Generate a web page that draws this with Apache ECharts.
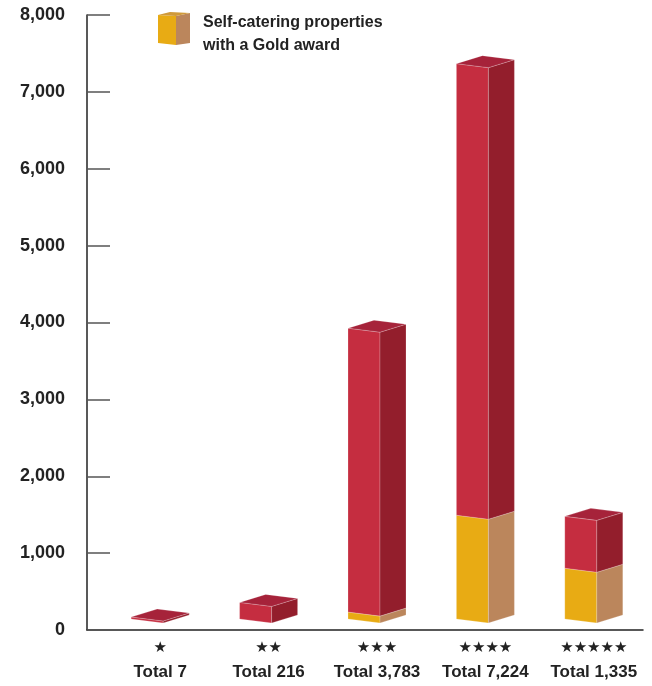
<!DOCTYPE html>
<html><head><meta charset="utf-8">
<script src="https://cdn.jsdelivr.net/npm/echarts@6/dist/echarts.min.js"></script>
<style>html,body{margin:0;padding:0;background:#fff}#c{width:652px;height:686px}</style>
</head><body><div id="c"></div>
<script>
const stars = ['★','★★','★★★','★★★★','★★★★★'];
const totalLabels = ['Total 7','Total 216','Total 3,783','Total 7,224','Total 1,335'];
const totals = [7, 216, 3783, 7224, 1335];
const goldAward = [0, 0, 90, 1350, 660];
const yMin = 0, yMax = 8000, yStep = 1000;

const C = {
  redFront: '#c52d40', redSide: '#931e2c', redTop: '#a6233a',
  goldFront: '#e8ab14', goldSide: '#bb865c', goldTop: '#d09a3a',
  edge: 'rgba(255,255,255,0.35)'
};
const FONT = '"Liberation Sans", Arial, sans-serif';

function poly(pts, fill) {
  return { type: 'polygon', shape: { points: pts }, style: { fill: fill, stroke: C.edge, lineWidth: 0.6 } };
}
function add(p, v) { return [p[0] + v[0], p[1] + v[1]]; }

function renderItem(params, api) {
  const idx = api.value(0), g = api.value(1), t = api.value(2);
  const c0 = api.coord([idx, 0]);
  const cx = c0[0];
  const y0 = c0[1] - 11;
  const hT = Math.max(2, c0[1] - api.coord([idx, t])[1]);
  const hG = g > 0 ? c0[1] - api.coord([idx, g])[1] : 0;
  const W = [32, 4], D = [26, -8];
  const fl = [cx - 29, y0];
  const up = h => [0, -h];
  const children = [];
  function block(h0, h1, front, side) {
    const a = add(fl, up(h0)), b = add(a, W), bb = add(b, D);
    const a1 = add(fl, up(h1)), b1 = add(a1, W), bb1 = add(b1, D);
    children.push(poly([a, b, b1, a1], front));
    children.push(poly([b, bb, bb1, b1], side));
  }
  if (hG > 0) block(0, hG, C.goldFront, C.goldSide);
  block(hG, hT, C.redFront, C.redSide);
  const p = add(fl, up(hT));
  children.push(poly([p, add(p, W), add(add(p, W), D), add(p, D)], C.redTop));
  return { type: 'group', children: children };
}

const chart = echarts.init(document.getElementById('c'), null, { renderer: 'canvas' });
chart.setOption({
  animation: false,
  backgroundColor: '#fff',
  grid: [
    { left: 87, right: 9, top: 15, bottom: 56 },
    { left: 106, right: 4, top: 15, bottom: 56 }
  ],
  xAxis: [
    { gridIndex: 0, type: 'category', data: stars,
      axisLine: { show: true, lineStyle: { color: '#222', width: 1.5 } },
      axisTick: { show: false }, axisLabel: { show: false }, splitLine: { show: false } },
    { gridIndex: 1, type: 'category', data: stars,
      axisLine: { show: false }, axisTick: { show: false }, splitLine: { show: false },
      axisLabel: {
        margin: 7,
        formatter: function (v, i) { return '{s|' + v + '}\n{t|' + totalLabels[i] + '}'; },
        rich: {
          s: { fontSize: 15, lineHeight: 22, color: '#222', fontFamily: '"DejaVu Sans", sans-serif' },
          t: { fontSize: 17, lineHeight: 26, color: '#222', fontWeight: 'bold', fontFamily: FONT }
        }
      } }
  ],
  yAxis: [
    { gridIndex: 0, type: 'value', min: yMin, max: yMax, interval: yStep,
      axisLine: { show: true, lineStyle: { color: '#222', width: 1.5 } },
      axisTick: { show: true, inside: true, length: 23, lineStyle: { color: '#555', width: 1.5 } },
      splitLine: { show: false },
      axisLabel: { margin: 22, fontSize: 18, fontWeight: 'bold', color: '#222', fontFamily: FONT,
        formatter: v => v.toLocaleString('en-US') } },
    { gridIndex: 1, type: 'value', min: yMin, max: yMax, show: false }
  ],
  graphic: [
    { type: 'polygon', shape: { points: [[158,15],[176,16],[176,45],[158,43]] }, style: { fill: C.goldFront } },
    { type: 'polygon', shape: { points: [[176,16],[190,13],[190,43],[176,45]] }, style: { fill: C.goldSide } },
    { type: 'polygon', shape: { points: [[158,15],[170,12],[190,13],[176,16]] }, style: { fill: C.goldTop } },
    { type: 'text', left: 203, top: 11, style: { text: 'Self-catering properties\nwith a Gold award',
      fontSize: 16, fontWeight: 'bold', lineHeight: 23, fill: '#222', fontFamily: FONT } }
  ],
  series: [{
    type: 'custom', xAxisIndex: 1, yAxisIndex: 1,
    renderItem: renderItem,
    data: stars.map((s, i) => [i, goldAward[i], totals[i]])
  }]
});
</script></body></html>
